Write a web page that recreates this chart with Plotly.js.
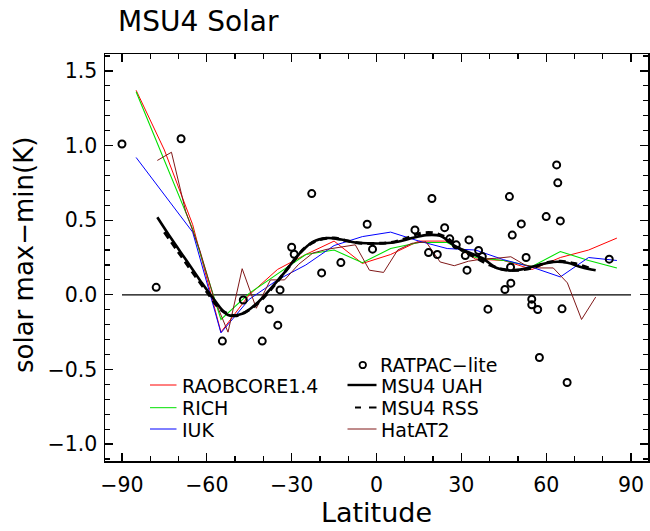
<!DOCTYPE html>
<html>
<head>
<meta charset="utf-8">
<script src="https://cdn.plot.ly/plotly-3.0.1.min.js"></script>
<style>
html,body{margin:0;padding:0;background:#fff;}
#chart{width:650px;height:531px;}
</style>
</head>
<body>
<div id="chart"></div>
<script>
// ---- data ----
const bandLat = [-85,-75,-65,-55,-45,-35,-25,-15,-5,5,15,25,35,45,55,65,75,85];
const raobcore = [1.37,0.97,0.47,-0.25,0.00,0.17,0.27,0.36,0.21,0.27,0.36,0.36,0.24,0.23,0.17,0.25,0.30,0.38];
const rich     = [1.36,0.90,0.44,-0.165,0.01,0.14,0.27,0.30,0.215,0.31,0.35,0.35,0.25,0.23,0.19,0.29,0.23,0.18];
const iuk      = [0.92,0.67,0.42,-0.255,-0.03,0.10,0.20,0.33,0.39,0.42,0.36,0.31,0.30,0.235,0.185,0.12,0.25,0.23];

const hatLat = [-77.5,-72.5,-67.5,-62.5,-57.5,-52.5,-47.5,-42.5,-37.5,-32.5,-27.5,-22.5,-17.5,-12.5,-7.5,-2.5,
                2.5,7.5,12.5,17.5,22.5,27.5,32.5,37.5,42.5,47.5,52.5,57.5,62.5,67.5,72.5,77.5];
const hatat2 = [0.90,0.955,0.56,0.30,-0.02,-0.25,0.175,-0.09,0.10,0.10,0.205,0.28,0.305,0.32,0.335,0.165,
                0.15,0.30,0.345,0.355,0.22,0.195,0.225,0.24,0.245,0.255,0.20,0.18,0.18,0.08,-0.165,-0.015];

const uahLat = hatLat;
const msu4uah = [0.52,0.375,0.238,0.10,-0.03,-0.135,-0.127,-0.06,0.04,0.15,0.27,0.355,0.38,0.37,0.35,0.345,
                 0.345,0.355,0.38,0.40,0.395,0.33,0.285,0.245,0.18,0.163,0.175,0.20,0.22,0.215,0.185,0.165];

const rssLat = [-75,-70,-65,-60,-55,-50,-45,-40,-35,-30,-25,-20,-15,-10,-5,0,5,10,15,20,25,30,35,40,45,50,55,60,65,70,75];
const msu4rss = [0.42,0.285,0.15,0.02,-0.10,-0.14,-0.10,-0.02,0.09,0.21,0.32,0.37,0.38,0.36,0.345,0.345,0.35,0.375,
                 0.41,0.415,0.38,0.30,0.25,0.20,0.17,0.165,0.18,0.215,0.225,0.21,0.18];

const ratLat = [-90.0,-69.1,-77.9,-54.5,-47.1,-40.4,-37.9,-34.9,-34.1,-30.0,-29.1,-22.9,-19.4,-12.6,-3.3,-1.4,
                13.6,18.4,19.6,21.5,24.1,25.9,28.2,31.4,32.0,32.7,36.1,37.4,39.4,45.4,47.0,47.4,47.5,48.0,
                51.2,52.9,54.9,54.9,57.0,57.6,60.0,63.7,64.1,65.0,65.6,67.4,82.3];
const ratpac = [1.01,1.045,0.05,-0.31,-0.035,-0.31,-0.096,-0.203,0.033,0.319,0.272,0.678,0.147,0.216,0.473,0.306,
                0.435,0.283,0.645,0.27,0.45,0.375,0.335,0.263,0.165,0.368,0.297,0.256,-0.096,0.036,0.658,0.185,0.078,0.40,
                0.475,0.25,-0.029,-0.067,-0.098,-0.42,0.524,0.87,0.75,0.495,-0.094,-0.587,0.239];

const zeroLat = [-90, 90];
const xTicks = [-90,-60,-30,0,30,60,90];
const yTicks = [-1.0,-0.5,0.0,0.5,1.0,1.5];

const names = {raob:'RAOBCORE1.4', rich:'RICH', iuk:'IUK', rat:'RATPAC−lite', uah:'MSU4 UAH', rss:'MSU4 RSS', hat:'HatAT2'};
const yTitle = 'solar max−min(K)';
const colors = {raob:'#ff0000', rich:'#00e000', iuk:'#0000ff', hat:'#801818', black:'#000000'};

// ---- layout geometry (pixels) ----
const W = 650, H = 531;
const M = {l:105, r:2, t:54, b:70};
const pw = W - M.l - M.r, ph = H - M.t - M.b;
const px2x = p => (p - M.l) / pw;
const py2y = p => (H - M.b - p) / ph;

const FONT = 'DejaVu Sans, Verdana, sans-serif';
const LEGSIZE = 19;

const traces = [
  {x: zeroLat, y: zeroLat.map(()=>0), mode:'lines', line:{color:'#000', width:1.2}, showlegend:false},
  {x: bandLat, y: raobcore, mode:'lines', line:{color:colors.raob, width:1}, name:names.raob},
  {x: bandLat, y: rich, mode:'lines', line:{color:colors.rich, width:1.1}, name:names.rich},
  {x: bandLat, y: iuk, mode:'lines', line:{color:colors.iuk, width:1}, name:names.iuk},
  {x: hatLat, y: hatat2, mode:'lines', line:{color:colors.hat, width:1}, name:names.hat},
  {x: rssLat, y: msu4rss, mode:'lines', line:{color:'#000', width:3, dash:'7px,5px', shape:'spline', smoothing:1}, name:names.rss},
  {x: uahLat, y: msu4uah, mode:'lines', line:{color:'#000', width:2.6, shape:'spline', smoothing:1}, name:names.uah},
  {x: ratLat, y: ratpac, mode:'markers', marker:{symbol:'circle-open', size:7, color:'#000', line:{width:2, color:'#000'}}, name:names.rat}
];

// ---- legend built from annotations and shapes ----
const shapes = [];
const annotations = [];
function legText(txt, xpx, ypx){
  annotations.push({xref:'paper', yref:'paper', x:px2x(xpx), y:py2y(ypx), xanchor:'left', yanchor:'middle',
                    text:txt, showarrow:false, height:17, borderpad:0, valign:'middle',
                    font:{family:FONT, size:LEGSIZE, color:'#000'}});
}
function legLine(x0, x1, ypx, color, width){
  shapes.push({type:'line', xref:'paper', yref:'paper', x0:px2x(x0), x1:px2x(x1), y0:py2y(ypx), y1:py2y(ypx),
               line:{color:color, width:width}});
}
const legLeft = [
  {key:'raob', y:385, color:colors.raob},
  {key:'rich', y:407.7, color:colors.rich},
  {key:'iuk', y:429, color:colors.iuk}
];
legLeft.forEach(it => { legLine(150, 176.5, it.y, it.color, 1); legText(names[it.key], 181, it.y); });
// right column
shapes.push({type:'circle', xref:'paper', yref:'paper', x0:px2x(359.5), x1:px2x(366), y0:py2y(361.8), y1:py2y(368.2),
             line:{color:'#000', width:1.8}});
legText(names.rat, 379, 364.5);
legLine(347.5, 376.5, 385, '#000', 2.4);
legText(names.uah, 379.5, 385);
legLine(355, 361, 407.5, '#000', 2);
legLine(369, 376.5, 407.5, '#000', 2);
legText(names.rss, 379.5, 407.5);
legLine(347.5, 376.5, 429, colors.hat, 1);
legText(names.hat, 379.5, 429);

// y-axis title as rotated annotation, placed where the reference has it
annotations.push({xref:'paper', yref:'paper', x:px2x(24), y:py2y(255), xanchor:'center', yanchor:'middle',
                  textangle:-90, text:yTitle, showarrow:false, font:{family:FONT, size:26, color:'#000'}});

const layout = {
  width: W, height: H,
  margin: M,
  paper_bgcolor:'#fff', plot_bgcolor:'#fff',
  showlegend:false,
  font:{family:FONT, color:'#000'},
  title:{text:'MSU4 Solar', font:{family:FONT, size:28, color:'#000'}, xref:'container', yref:'container',
         x:118/W, xanchor:'left', y:1-21/H, yanchor:'middle'},
  xaxis:{range:[-96,96], tickvals:xTicks, ticktext:xTicks.map(v=>v<0?'−'+Math.abs(v):String(v)),
         ticks:'inside', ticklen:8, tickwidth:1.3, tickcolor:'#000',
         minor:{dtick:10, tick0:0, ticks:'inside', ticklen:5, tickwidth:1.2, tickcolor:'#000', showgrid:false},
         showline:true, linecolor:'#000', linewidth:1.5, mirror:'allticks', showgrid:false, zeroline:false,
         tickfont:{family:FONT, size:20.5, color:'#000'}, ticklabelstandoff:5,
         title:{text:'Latitude', font:{family:FONT, size:27, color:'#000'}, standoff:6}, automargin:false},
  yaxis:{range:[-1.113,1.613], tickvals:yTicks, ticktext:yTicks.map(v=>(v<0?'−':'')+Math.abs(v).toFixed(1)),
         ticks:'inside', ticklen:8, tickwidth:1.3, tickcolor:'#000',
         minor:{dtick:0.1, tick0:0, ticks:'inside', ticklen:5, tickwidth:1.2, tickcolor:'#000', showgrid:false},
         showline:true, linecolor:'#000', linewidth:1.5, mirror:'allticks', showgrid:false, zeroline:false,
         tickfont:{family:FONT, size:20.5, color:'#000'}, ticklabelstandoff:2,
         automargin:false},
  shapes: shapes,
  annotations: annotations
};

Plotly.newPlot('chart', traces, layout, {staticPlot:true, displayModeBar:false});
</script>
</body>
</html>
